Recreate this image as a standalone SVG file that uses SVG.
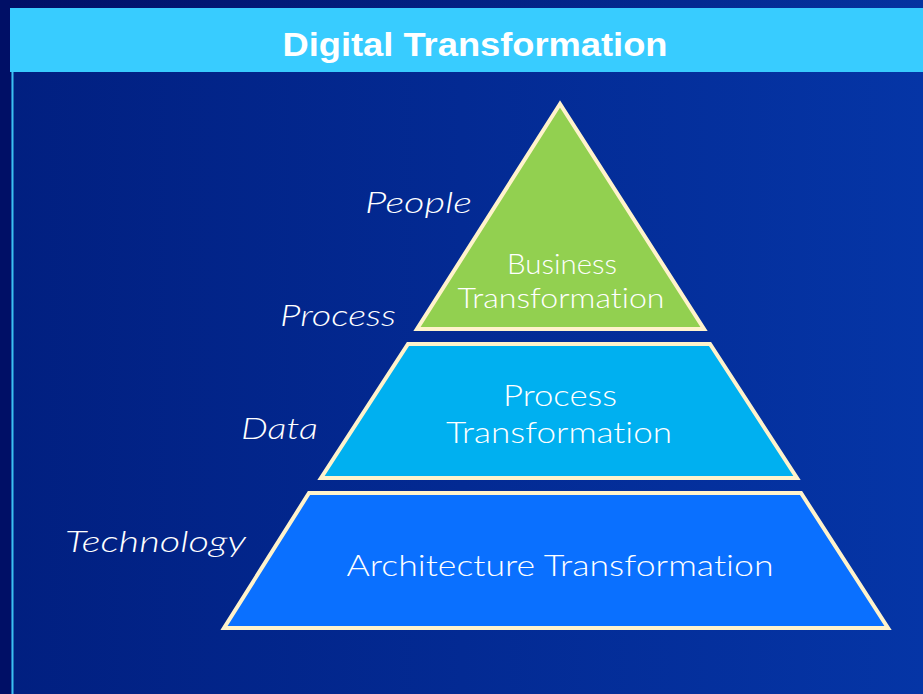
<svg xmlns="http://www.w3.org/2000/svg" width="923" height="694" viewBox="0 0 923 694">
<defs>
<linearGradient id="bg" x1="0" y1="0" x2="1" y2="0">
<stop offset="0" stop-color="#011f80"/>
<stop offset="1" stop-color="#0535a6"/>
</linearGradient>
<linearGradient id="topbg" x1="0" y1="0" x2="1" y2="0">
<stop offset="0" stop-color="#000f66"/>
<stop offset="1" stop-color="#0433a0"/>
</linearGradient>
<style>
.shape{stroke:#fff3cc;stroke-width:4;stroke-linejoin:miter}
.lbl{font-family:Lato,"Liberation Sans",Arial,sans-serif;font-weight:300;fill:#ffffff;text-anchor:middle;font-variant-ligatures:none;font-feature-settings:"liga" 0,"dlig" 0}
.title{font-family:"Liberation Sans",Arial,sans-serif;font-weight:bold;fill:#ffffff;text-anchor:middle}
.side{font-family:Lato,"Liberation Sans",Arial,sans-serif;font-weight:300;fill:#ffffff;font-style:italic;font-size:29px;font-variant-ligatures:none}
</style>
</defs>
<rect x="0" y="0" width="923" height="694" fill="url(#bg)"/>
<rect x="0" y="0" width="923" height="8" fill="url(#topbg)"/>
<rect x="0" y="0" width="11" height="694" fill="#000f66"/>
<rect x="11.5" y="72" width="2" height="622" fill="#3cbff0"/>
<g id="header">
<rect x="10" y="8" width="913" height="64" fill="#38ccff"/>
<text x="475" y="56" class="title" font-size="34" textLength="385" lengthAdjust="spacingAndGlyphs">Digital Transformation</text>
</g>
<g id="business">
<polygon class="shape" points="560,104 417,329 704,329" fill="#92d050"/>
<text class="lbl" font-size="28" x="562" y="274" textLength="110" lengthAdjust="spacingAndGlyphs">Business</text>
<text class="lbl" font-size="28" x="561" y="308" textLength="207" lengthAdjust="spacingAndGlyphs">Transformation</text>
</g>
<g id="process">
<polygon class="shape" points="408,344 710,344 797,478 321,478" fill="#00b0f0"/>
<text class="lbl" font-size="30" x="560" y="406" textLength="114" lengthAdjust="spacingAndGlyphs">Process</text>
<text class="lbl" font-size="30" x="559" y="443" textLength="226" lengthAdjust="spacingAndGlyphs">Transformation</text>
</g>
<g id="architecture">
<polygon class="shape" points="309,493 801,493 888,628 224,628" fill="#0a70ff"/>
<text class="lbl" font-size="30" x="560" y="576" textLength="427" lengthAdjust="spacingAndGlyphs">Architecture Transformation</text>
</g>
<g id="labels">
<text class="side" x="365" y="213" textLength="107" lengthAdjust="spacingAndGlyphs">People</text>
<text class="side" x="280" y="326" textLength="116" lengthAdjust="spacingAndGlyphs">Process</text>
<text class="side" x="241" y="439" textLength="77" lengthAdjust="spacingAndGlyphs">Data</text>
<text class="side" x="65" y="552" textLength="181" lengthAdjust="spacingAndGlyphs">Technology</text>
</g>
<g id="connectors"></g>
</svg>
